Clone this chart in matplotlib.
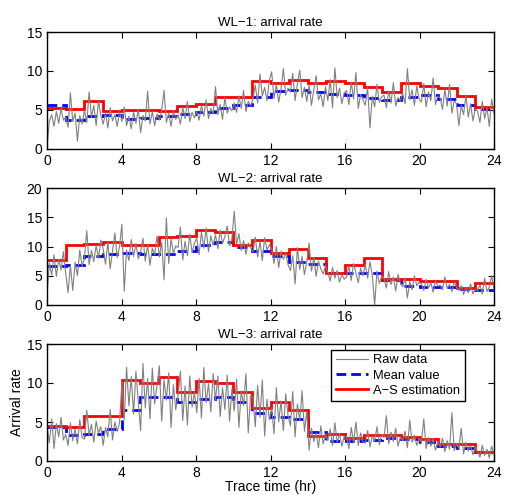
import numpy as np
import matplotlib.pyplot as plt

plt.rcParams['font.family'] = ['Liberation Sans', 'DejaVu Sans']
plt.rcParams['font.size'] = 9

# godziny (krawedzie schodkow)
hours = np.arange(25)

# WL-1
raw1 = [0.2, 3.6, 4.4, 2.9, 4.8, 3.3, 5.2, 3.7,
        4.1, 2.8, 7.2, 3.5, 4.6, 1.0, 4.3, 3.2,
        5.0, 3.4, 7.3, 4.1, 5.6, 3.0, 6.2, 4.3,
        3.2, 4.6, 2.7, 5.3, 3.6, 4.4, 2.9, 4.8,
        3.5, 5.4, 3.0, 4.2, 2.6, 4.7, 3.3, 5.1,
        2.1, 4.3, 3.6, 7.4, 3.2, 4.8, 3.0, 4.5,
        3.7, 5.0, 7.5, 3.4, 4.6, 2.9, 4.9, 3.8,
        4.4, 3.2, 5.3, 3.9, 6.1, 3.5, 4.7, 4.0,
        4.8, 3.7, 5.6, 4.2, 6.3, 3.9, 5.2, 4.5,
        8.0, 4.4, 5.7, 3.8, 6.6, 4.6, 5.4, 4.9,
        5.9, 4.7, 6.8, 5.2, 7.5, 4.8, 6.1, 5.5,
        6.4, 8.2, 5.9, 9.6, 6.8, 7.9, 6.2, 8.8,
        9.9, 6.5, 8.3, 6.0, 7.7, 10.3, 6.9, 7.8,
        7.3, 9.7, 6.2, 8.4, 10.1, 6.6, 7.9, 6.1,
        8.2, 5.6, 7.6, 9.4, 6.3, 7.1, 5.4, 8.0,
        6.2, 8.9, 5.3, 10.4, 6.6, 7.8, 5.8, 7.2,
        7.5, 5.7, 8.6, 6.4, 9.8, 5.2, 7.0, 6.3,
        5.6, 7.9, 2.7, 6.8, 5.4, 8.3, 6.0, 6.7,
        6.9, 5.3, 7.4, 5.9, 8.5, 5.5, 6.6, 6.1,
        7.2, 5.8, 10.3, 6.3, 7.6, 5.6, 8.1, 6.4,
        6.0, 8.4, 5.4, 7.3, 6.2, 9.1, 5.7, 6.8,
        6.5, 5.1, 7.7, 5.5, 8.3, 4.6, 6.2, 5.8,
        3.0, 5.6, 4.4, 6.9, 4.1, 5.8, 3.6, 5.2,
        4.8, 3.4, 6.1, 3.9, 5.3, 2.9, 6.4, 4.6]
mean1 = [5.6, 3.7, 4.2, 4.3, 3.9, 4.0, 4.2, 4.5, 4.8, 5.3, 5.7, 6.7,
         7.4, 7.5, 7.3, 7.0, 6.9, 6.5, 6.3, 6.7, 6.9, 6.4, 5.7, 5.1]
as1 = [5.25, 5.1, 6.2, 4.9, 5.0, 4.95, 4.9, 5.5, 5.8, 6.7, 6.7, 8.7,
       8.5, 8.9, 8.5, 8.7, 8.4, 7.9, 7.3, 8.5, 8.1, 7.8, 6.8, 5.4]

# WL-2
raw2 = [1.6, 7.2, 5.1, 8.6, 4.9, 7.8, 6.0, 9.1,
        5.4, 2.1, 6.8, 2.5, 7.3, 5.0, 9.4, 6.6,
        8.1, 12.7, 6.9, 9.3, 7.4, 10.2, 8.0, 11.1,
        9.6, 7.0, 10.8, 6.2, 9.2, 12.3, 8.1, 10.0,
        13.8, 2.4, 9.4, 7.6, 11.2, 8.3, 10.5, 7.9,
        9.1, 11.4, 7.5, 10.3, 6.8, 9.7, 8.6, 11.8,
        8.2, 10.7, 4.3, 14.9, 7.1, 11.3, 8.8, 10.1,
        9.8, 13.3, 7.7, 10.9, 8.4, 12.1, 8.9, 10.6,
        11.4, 8.6, 12.5, 9.7, 13.2, 9.1, 11.8, 10.2,
        12.0, 9.6, 12.8, 10.5, 11.7, 13.5, 10.1, 11.3,
        16.0, 10.4, 12.2, 9.3, 11.0, 8.7, 10.6, 9.8,
        9.1, 11.6, 8.2, 10.9, 7.6, 11.5, 9.4, 10.3,
        9.6, 7.1, 10.0, 6.4, 9.2, 7.8, 8.8, 6.9,
        5.9, 8.4, 3.6, 9.8, 6.1, 8.3, 5.2, 7.4,
        10.6, 5.8, 8.1, 4.9, 7.5, 6.2, 5.3, 6.7,
        5.6, 4.1, 6.4, 4.6, 5.9, 3.9, 5.2, 4.4,
        4.8, 6.7, 4.2, 7.1, 5.5, 3.8, 6.3, 5.0,
        6.9, 4.6, 7.4, 5.1, 0.0, 5.8, 3.7, 4.9,
        4.6, 2.9, 5.7, 3.5, 4.8, 2.4, 5.2, 3.8,
        3.1, 4.6, 1.2, 4.0, 2.6, 5.0, 3.3, 3.9,
        3.6, 2.5, 4.4, 2.9, 3.8, 2.2, 4.1, 3.2,
        3.4, 2.6, 4.8, 2.8, 3.5, 2.3, 3.9, 3.0,
        2.5, 3.3, 1.8, 2.9, 2.1, 3.6, 1.9, 2.7,
        2.4, 3.5, 1.9, 4.6, 2.3, 3.1, 5.0, 2.6]
mean2 = [6.7, 6.9, 8.4, 8.8, 8.9, 8.7, 8.8, 9.2, 10.3, 10.7, 9.9, 9.3,
         8.4, 7.3, 7.0, 5.4, 5.4, 5.5, 4.2, 3.3, 3.1, 3.1, 2.7, 2.5]
as2 = [7.7, 10.3, 10.4, 10.8, 10.3, 10.3, 11.6, 11.8, 12.8, 12.4, 10.3, 11.1,
       8.9, 9.6, 8.0, 5.5, 6.9, 8.0, 4.5, 4.5, 4.1, 4.1, 2.9, 3.7]

# WL-3
raw3 = [4.5, 2.3, 5.4, 1.6, 4.8, 3.1, 5.6, 2.7,
        3.4, 2.0, 4.9, 2.6, 4.1, 2.2, 5.3, 3.0,
        2.8, 6.5, 3.3, 4.7, 2.4, 5.1, 3.6, 4.4,
        2.0, 4.3, 3.1, 6.6, 2.7, 5.0, 3.8, 4.9,
        10.2, 5.3, 12.0, 7.1, 10.8, 6.0, 11.5, 7.6,
        3.9, 12.5, 6.8, 10.6, 5.4, 11.9, 7.3, 9.7,
        12.2, 5.1, 10.4, 7.8, 11.3, 4.3, 9.8, 6.6,
        8.4, 11.5, 5.2, 9.6, 4.6, 10.9, 6.9, 8.8,
        6.2, 10.6, 5.5, 12.0, 7.5, 9.9, 6.3, 11.2,
        7.8, 10.9, 5.7, 9.4, 6.6, 11.0, 5.1, 9.2,
        6.4, 10.5, 4.3, 9.0, 7.1, 11.2, 3.6, 8.4,
        8.1, 4.4, 9.7, 5.6, 10.4, 3.2, 7.9, 5.3,
        6.8, 3.5, 9.4, 5.0, 7.7, 3.9, 8.6, 5.8,
        4.5, 8.9, 3.1, 7.3, 5.2, 9.0, 3.8, 6.4,
        1.4, 4.2, 2.5, 3.6, 1.7, 4.5, 2.2, 3.3,
        2.6, 4.1, 2.0, 4.9, 2.4, 3.5, 1.9, 3.2,
        3.1, 1.6, 4.3, 2.4, 5.0, 2.0, 3.6, 2.5,
        2.3, 3.9, 1.8, 3.2, 2.6, 4.4, 2.1, 3.4,
        3.0, 5.8, 2.2, 3.7, 2.5, 4.2, 1.9, 3.1,
        2.6, 3.8, 1.7, 5.2, 2.4, 3.3, 2.0, 2.9,
        2.4, 5.4, 1.6, 3.0, 1.9, 2.8, 1.4, 2.5,
        1.8, 2.9, 1.2, 2.6, 1.5, 6.2, 1.3, 2.2,
        1.6, 4.2, 0.9, 2.4, 1.3, 2.0, 0.8, 1.8,
        1.2, 0.5, 2.0, 0.7, 1.5, 0.4, 1.9, 0.8]
mean3 = [4.4, 3.3, 3.5, 4.1, 6.5, 8.2, 8.2, 7.6, 7.9, 8.2, 7.6, 6.1,
         5.7, 5.4, 3.7, 2.6, 2.6, 2.7, 2.9, 2.8, 2.4, 1.9, 1.7, 1.2]
as3 = [4.5, 4.3, 5.8, 5.8, 10.4, 10.0, 10.8, 8.9, 10.3, 10.0, 8.8, 6.8,
       7.6, 6.6, 3.2, 3.4, 3.0, 3.3, 3.3, 3.1, 2.8, 2.2, 2.2, 1.2]

titles = ['WL\u22121: arrival rate', 'WL\u22122: arrival rate', 'WL\u22123: arrival rate']
ylims = [15, 20, 15]
yticks = [[0, 5, 10, 15], [0, 5, 10, 15, 20], [0, 5, 10, 15]]
xticks = [0, 4, 8, 12, 16, 20, 24]

fig = plt.figure(figsize=(5.07, 4.95), dpi=100)
W, H = 507, 495
boxes = [(32, 149), (188, 305), (344, 461)]
data = [(raw1, mean1, as1), (raw2, mean2, as2), (raw3, mean3, as3)]

for i in range(3):
    top, bot = boxes[i]
    ax = fig.add_axes([47 / W, 1 - bot / H, 447 / W, (bot - top) / H])
    raw, mean, est = data[i]
    t = np.linspace(0, 24, len(raw))
    ax.plot(t, raw, color='#808080', lw=0.8, label='Raw data')
    ax.stairs(mean, hours, baseline=None, color='#0000ff', lw=2,
              linestyle=(0, (3.5, 1.8)), label='Mean value')
    ax.stairs(est, hours, baseline=None, color='#ff0000', lw=2, label='A\u2212S estimation')
    ax.set_xlim(0, 24)
    ax.set_ylim(0, ylims[i])
    ax.set_xticks(xticks)
    ax.set_yticks(yticks[i])
    ax.tick_params(direction='in', top=True, right=True, length=4, labelsize=10)
    ax.set_title(titles[i], fontsize=9.5, pad=4)
    for s in ax.spines.values():
        s.set_linewidth(1.0)
    if i == 2:
        ax.set_ylabel('Arrival rate', fontsize=10, labelpad=2)
        ax.set_xlabel('Trace time (hr)', fontsize=10, labelpad=0)
        leg = ax.legend(loc='upper right', bbox_to_anchor=(0.935, 0.95), fontsize=9.3,
                        fancybox=False, edgecolor='black', framealpha=1, borderaxespad=0,
                        handlelength=2.5, borderpad=0.35, labelspacing=0.25, handletextpad=0.4)
        leg.get_frame().set_linewidth(1.0)

fig.savefig('out.png', dpi=100)
